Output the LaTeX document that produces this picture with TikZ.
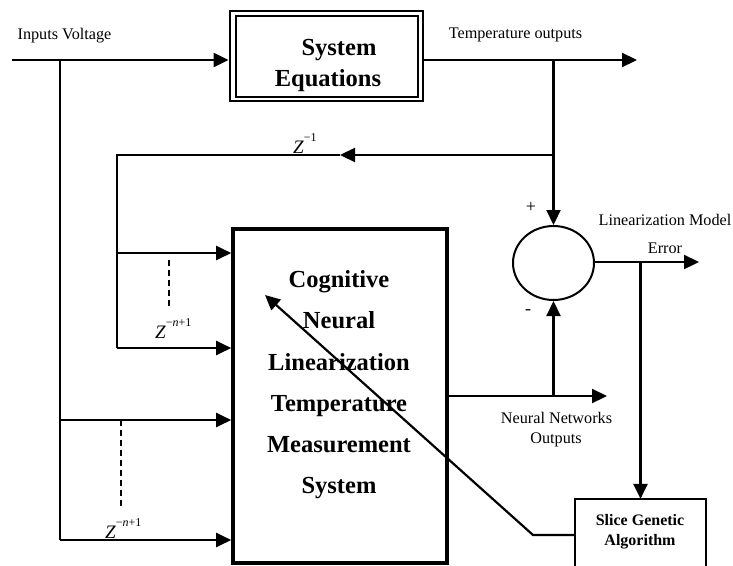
\documentclass[tikz,border=0pt]{standalone}
\usepackage{fontspec}
\setmainfont{Liberation Serif}
\usetikzlibrary{arrows.meta,shapes.geometric}
\newcommand{\zsup}[1]{\textit{Z}\raisebox{0.6em}{\fontsize{12}{13}\selectfont #1}}
\begin{document}
\begin{tikzpicture}[x=1pt,y=-1pt,line width=2.2pt,
  arr/.style={-{Triangle[length=15pt,width=14pt]}},
  lbl/.style={font=\fontsize{16.2}{18}\selectfont,inner sep=0pt,anchor=base},
  zl/.style={font=\fontsize{19}{20}\selectfont,inner sep=0pt,anchor=base west},
  big/.style={font=\fontsize{24.5}{28}\selectfont\bfseries,inner sep=0pt,anchor=base},
  sgat/.style={font=\fontsize{16}{18}\selectfont\bfseries,inner sep=0pt,anchor=base},
  dsh/.style={dash pattern=on 6pt off 4pt,line width=1.8pt}]
\useasboundingbox (0,0) rectangle (733,565);

% blocks
\node[draw,line width=2.8pt,minimum width=193pt,minimum height=90pt,inner sep=0pt] (sys) at (326.5,56) {};
\node[draw,line width=2pt,minimum width=182pt,minimum height=81pt,inner sep=0pt] (sysin) at (326.5,56) {};
\node[big] (s1) at (339,55) {System};
\node[big] (s2) at (328,86) {Equations};

\node[draw,line width=3.6pt,minimum width=214pt,minimum height=334pt,inner sep=0pt] (nn) at (340,396) {};
\node[big] (c1) at (339,287) {Cognitive};
\node[big] (c2) at (339,328.5) {Neural};
\node[big] (c3) at (339,370) {Linearization};
\node[big] (c4) at (339,411) {Temperature};
\node[big] (c5) at (339,452) {Measurement};
\node[big] (c6) at (339,493.5) {System};

\node[draw,ellipse,minimum width=81pt,minimum height=74pt,inner sep=0pt,line width=2pt] (sum) at (553.5,263) {};

\node[minimum width=129pt,minimum height=65pt,inner sep=0pt] (sga) at (640.5,532.5) {};
\draw (sga.south west) -- (sga.north west) -- (sga.north east) -- (sga.south east);
\node[sgat] (g1) at (640,525) {Slice Genetic};
\node[sgat] (g2) at (640,545) {Algorithm};

% coordinates
\coordinate (in) at (12,60);
\coordinate (j1) at (60,60);
\coordinate (j2) at (60,420);
\coordinate (j3) at (60,540);
\coordinate (tout) at (637,60);
\coordinate (fbr) at (553.5,155);
\coordinate (fbm) at (340,155);
\coordinate (fbl) at (117,155);
\coordinate (d1) at (117,253);
\coordinate (d2) at (117,348);
\coordinate (nno) at (447,396);
\coordinate (nnt) at (607,396);
\coordinate (nnj) at (553.5,396);
\coordinate (err) at (699,262);
\coordinate (ej) at (640.5,262);
\coordinate (gb) at (533,535);
\coordinate (gt) at (265,295);

% connectors
\draw[arr] (in) -- (in -| sys.west);
\draw (j1) -- (j3);
\draw[arr] (j2) -- (j2 -| nn.west);
\draw[arr] (j3) -- (j3 -| nn.west);
\draw[arr] (in -| sys.east) -- (tout);
\draw[arr] (sum.north |- in) -- (sum.north);
\draw[arr] (fbr) -- (fbm);
\draw (fbm) -- (fbl) -- (d2);
\draw[arr] (d1) -- (d1 -| nn.west);
\draw[arr] (d2) -- (d2 -| nn.west);
\draw[dsh] (169,260) -- (169,309);
\draw[dsh] (121,420) -- (121,508);
\draw[arr] (nno) -- (nnt);
\draw[arr] (nnj) -- (sum.south);
\draw[arr] (sum.east |- err) -- (err);
\draw[arr] (ej) -- (sga.north);
\draw[arr] (gb -| sga.west) -- (gb) -- (gt);

% labels
\node[lbl] (l1) at (64.5,39) {Inputs Voltage};
\node[lbl] (l2) at (515.5,38) {Temperature outputs};
\node[zl] (z1) at (292,153) {\zsup{−1}};
\node[zl] (z2) at (154,338) {\zsup{−\textit{n}+1}};
\node[zl] (z3) at (104,538) {\zsup{−\textit{n}+1}};
\node[font=\fontsize{18}{18}\selectfont,inner sep=0pt] (plus) at (531,207) {+};
\node[font=\fontsize{18}{18}\selectfont,inner sep=0pt] (minus) at (528,312) {-};
\node[lbl] (l3) at (665,225.5) {Linearization Model};
\node[lbl] (l4) at (665,253) {Error};
\node[lbl] (l5) at (556.5,423) {Neural Networks};
\node[lbl] (l6) at (556,443) {Outputs};
\end{tikzpicture}
\end{document}
